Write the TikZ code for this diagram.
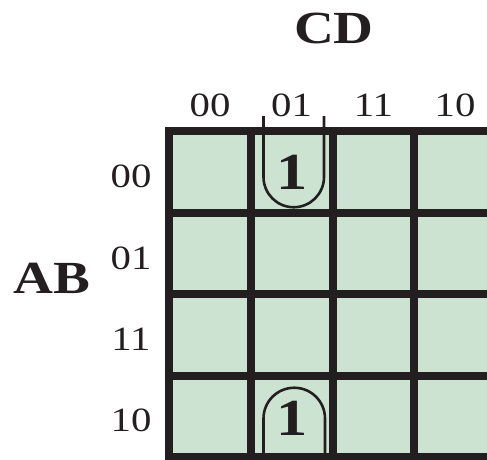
\documentclass[tikz,border=0pt]{standalone}
\usepackage{fontspec}
\setmainfont{Liberation Serif}[FakeStretch=1.2]
\usepackage{xcolor}
\definecolor{kmapfill}{HTML}{CCE3D1}
\definecolor{kmapline}{HTML}{231F20}

\begin{document}
\begin{tikzpicture}[x=1pt, y=1pt, every node/.style={inner sep=0pt, text=kmapline},
  kline/.style={draw=kmapline, line width=8pt},
  grouploop/.style={draw=kmapline, line width=2.6pt},
  bitlabel/.style={font=\fontsize{34}{40}\selectfont},
  varlabel/.style={font=\fontsize{46}{52}\selectfont\bfseries},
  onecell/.style={font=\fontsize{52}{58}\selectfont\bfseries}]

\useasboundingbox (0,0) rectangle (487,459);
\clip (0,0) rectangle (487,459);

% cells and grid
\fill[kmapfill] (169,2) rectangle (496,328);
\draw[kline] (169,2) rectangle (496,328);
\foreach \x in {250.75,332.5,414.25} \draw[kline] (\x,2) -- (\x,328);
\foreach \y in {83.5,165,246.5} \draw[kline] (169,\y) -- (496,\y);

% variable names
\node (cd) [varlabel] at (334,431) {CD};
\node (ab) [varlabel] at (52,181) {AB};

% column and row codes
\node (c00) [bitlabel] at (210,354) {00};
\node (c01) [bitlabel] at (291.6,354) {01};
\node (c11) [bitlabel] at (373.4,354) {11};
\node (c10) [bitlabel] at (455,354) {10};
\node (r00) [bitlabel] at (131,283) {00};
\node (r01) [bitlabel] at (131,201) {01};
\node (r11) [bitlabel] at (131,120) {11};
\node (r10) [bitlabel] at (131,39) {10};

% minterms
\node (oneup) [onecell] at (292,287) {1};
\node (onedown) [onecell] at (292,41) {1};

% wrap-around group
\draw[grouploop] (263.5,343) -- (263.5,282) arc[start angle=180, end angle=360, radius=30.25] -- (324,343);
\draw[grouploop] (263.5,-10) -- (263.5,40.5) arc[start angle=180, end angle=0, radius=30.75] -- (325,-10);

\end{tikzpicture}
\end{document}
